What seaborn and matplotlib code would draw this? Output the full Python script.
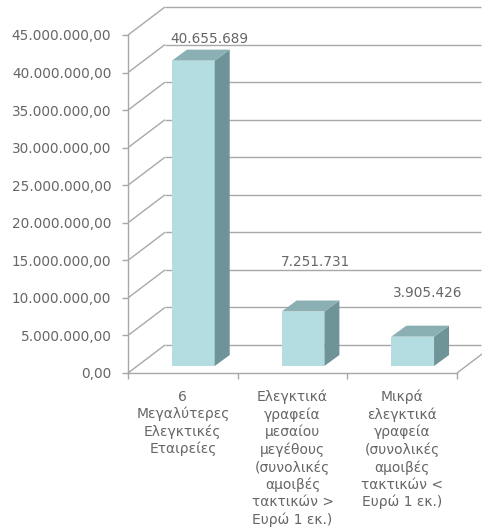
import matplotlib
matplotlib.use("Agg")
import matplotlib.pyplot as plt
import seaborn as sns
import numpy as np
import pandas as pd
from matplotlib.transforms import ScaledTranslation, IdentityTransform
from matplotlib.patches import Polygon

# ---- data ----
categories = [
    "6\nΜεγαλύτερες\nΕλεγκτικές\nΕταιρείες",
    "Ελεγκτικά\nγραφεία\nμεσαίου\nμεγέθους\n(συνολικές\nαμοιβές\nτακτικών >\nΕυρώ 1 εκ.)",
    "Μικρά\nελεγκτικά\nγραφεία\n(συνολικές\nαμοιβές\nτακτικών <\nΕυρώ 1 εκ.)",
]
values = [40655689, 7251731, 3905426]
value_labels = ["40.655.689", "7.251.731", "3.905.426"]
yticks = [0, 5000000, 10000000, 15000000, 20000000, 25000000, 30000000, 35000000, 40000000, 45000000]

# ---- style ----
sns.set_style("white")
plt.rcParams["font.family"] = ["DejaVu Sans"]
TXT = "#666666"
GRID = "#a8a8a8"
FRONT = "#b4dde1"
SIDE = "#6e9497"
TOP = "#8bb0b3"

W, H, DPI = 482, 530, 100
fig = plt.figure(figsize=(W / DPI, H / DPI), dpi=DPI)
# front plane of the 3D box (pixel coords, image y from top)
X0, X1, Y0, Y1 = 128, 457, 373, 35
ax = fig.add_axes([X0 / W, (H - Y0) / H, (X1 - X0) / W, (Y0 - Y1) / H])
ax.patch.set_visible(False)

df = pd.DataFrame({"cat": categories, "val": values})
sns.barplot(data=df, x="cat", y="val", ax=ax, width=0.39, color=FRONT,
            saturation=1, edgecolor="none", zorder=3)
ax.set_xlim(-0.5, 2.5)
ax.set_ylim(0, 45000000)
ax.set_xlabel("")
ax.set_ylabel("")

# bar position inside the depth
off = ScaledTranslation(10.5 / DPI, 7 / DPI, fig.dpi_scale_trans)
bar_tr = ax.transData + off
for p in ax.patches:
    p.set_transform(bar_tr)
    p.set_clip_on(False)

inv = ax.transData.inverted()

def seg(p0, p1):
    """draw a wall line between two display points (converted back to data)"""
    a = inv.transform(p0)
    b = inv.transform(p1)
    ax.plot([a[0], b[0]], [a[1], b[1]], color=GRID, lw=1.0, clip_on=False,
            zorder=1, solid_capstyle="butt")

# 3D walls: depth vector in pixels
DX, DY = 37, 28
xd = ax.transData.transform((-0.5, 0))[0]
for v in yticks:
    yd = ax.transData.transform((0, v))[1]
    seg((xd, yd), (xd + DX, yd + DY))
    seg((xd + DX, yd + DY), (W - 0.5, yd + DY))
# floor right edge
xr, yb = ax.transData.transform((2.5, 0))
seg((xr, yb), (xr + DX, yb + DY))

# bar depth faces
BDX, BDY = 15, 11
for p in ax.patches[:len(values)]:
    x, y = p.get_x(), p.get_y()
    w, h = p.get_width(), p.get_height()
    (ax0, ay0) = bar_tr.transform((x, y))
    (ax1, ay1) = bar_tr.transform((x + w, y + h))
    side = [(ax1, ay0), (ax1 + BDX, ay0 + BDY), (ax1 + BDX, ay1 + BDY), (ax1, ay1)]
    top = [(ax0, ay1), (ax1, ay1), (ax1 + BDX, ay1 + BDY), (ax0 + BDX, ay1 + BDY)]
    ax.add_patch(Polygon(side, closed=True, facecolor=SIDE, edgecolor="none",
                         transform=IdentityTransform(), clip_on=False, zorder=3))
    ax.add_patch(Polygon(top, closed=True, facecolor=TOP, edgecolor="none",
                         transform=IdentityTransform(), clip_on=False, zorder=3))

# data labels (pixel offsets from top-front centre of each bar)
label_dx = [16, 12, 15]
label_dy = [22, 50, 44]
for p, lab, dx, dy in zip(ax.patches[:len(values)], value_labels, label_dx, label_dy):
    cx, ty = bar_tr.transform((p.get_x() + p.get_width() / 2, p.get_height()))
    ax.text(cx + dx, ty + dy, lab, transform=IdentityTransform(), ha="center",
            va="center", fontsize=9.8, color=TXT, zorder=5)

# axes styling
for s in ["top", "right"]:
    ax.spines[s].set_visible(False)
for s in ["left", "bottom"]:
    ax.spines[s].set_color(GRID)
    ax.spines[s].set_linewidth(1.0)

def fmt(v):
    return f"{int(v):,}".replace(",", ".") + ",00"

ax.set_yticks(yticks)
ax.set_yticklabels([fmt(v) for v in yticks])
ax.tick_params(axis="y", length=4, width=1, color=GRID, pad=8, labelsize=9.8,
               labelcolor=TXT, left=True)
ax.set_xticks([0, 1, 2])
ax.set_xticklabels(categories, linespacing=1.27)
ax.tick_params(axis="x", length=0, pad=12, labelsize=10, labelcolor=TXT)
ax.set_xticks([-0.5, 0.5, 1.5, 2.5], minor=True)
ax.tick_params(axis="x", which="minor", length=4, width=1, color=GRID, bottom=True)
for t in ax.get_xticklabels():
    t.set_va("top")
    t.set_ha("center")
    t.set_multialignment("center")

fig.savefig("out.png", dpi=DPI, facecolor="white")
